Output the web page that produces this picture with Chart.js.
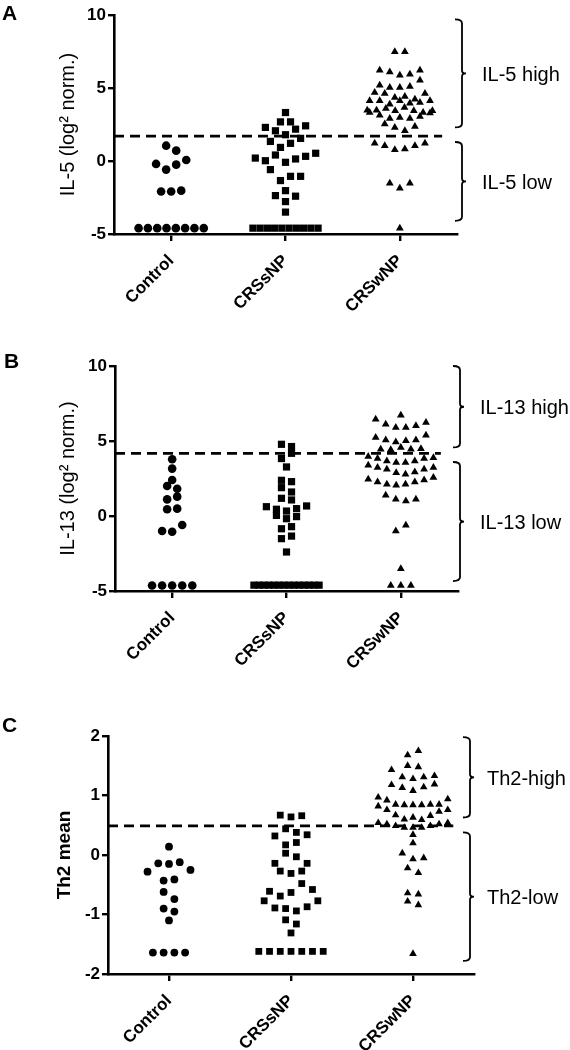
<!DOCTYPE html>
<html>
<head>
<meta charset="utf-8">
<script src="https://cdn.jsdelivr.net/npm/chart.js@4.4.0/dist/chart.umd.min.js"></script>
<style>
  body { margin: 0; background: #fff; width: 570px; height: 1050px; position: relative; overflow: hidden; }
  canvas { position: absolute; left: 0; }
</style>
</head>
<body>
<canvas id="panelA" width="570" height="350" style="top:0"></canvas>
<canvas id="panelB" width="570" height="350" style="top:350px"></canvas>
<canvas id="panelC" width="570" height="350" style="top:700px"></canvas>
<script>
'use strict';

const groups = ['Control', 'CRSsNP', 'CRSwNP'];

// each group is a list of swarm rows, read top to bottom, left to right

// A: IL-5
const il5Ticks = [-5, 0, 5, 10];
const il5Control = [
    [1.05, 0.71],
    [-0.20, -0.59, -0.25, 0.07],
    [-2.09, -2.09, -2.03],
    [-4.6, -4.6, -4.6, -4.6, -4.6, -4.6, -4.6, -4.6]
];
const il5Crssnp = [
    [3.32],
    [2.68, 2.68],
    [2.30, 2.07, 1.80, 2.18, 2.41],
    [1.34, 0.93, 1.21, 1.55],
    [0.20, 0.02, 0.41, -0.09, 0.14, 0.32, 0.53],
    [-0.59, -1.34, -1.05, -1.05],
    [-2.37, -2.03, -2.41],
    [-2.78],
    [-3.50],
    [-4.6, -4.6, -4.6, -4.6, -4.6, -4.6, -4.6, -4.6, -4.6, -4.6]
];
const il5Crswnp = [
    [7.49, 7.49],
    [6.21, 6.10, 5.87, 5.94, 6.21],
    [5.19, 5.03, 5.03, 5.10, 5.53],
    [4.69, 4.62, 4.35, 4.41, 4.23, 4.62],
    [4.12, 4.12, 3.89, 4.12, 3.96, 4.00, 4.12],
    [3.48, 3.48, 3.59, 3.44, 3.66, 3.44, 3.32, 3.44],
    [3.32, 3.14, 2.91, 2.98, 2.91, 3.05, 3.28],
    [2.53, 2.30, 2.07, 2.37],
    [1.21, 1.05, 0.77, 0.82, 1.05, 1.21],
    [-1.52, -1.87, -1.52],
    [-4.6]
];
const il5Cutoff = 1.7;
const il5Brackets = [[2.3, 9.7], [-4.1, 1.3]];
const il5BracketLabels = ['IL-5 high', 'IL-5 low'];

// B: IL-13
const il13Ticks = [-5, 0, 5, 10];
const il13Control = [
    [3.78],
    [3.16],
    [2.40],
    [2.00, 1.82],
    [1.11, 1.29],
    [0.45, 0.49],
    [-1.00, -1.05, -0.60],
    [-4.63, -4.63, -4.63, -4.63, -4.63]
];
const il13Crssnp = [
    [4.78, 4.63],
    [3.83, 4.18],
    [3.27],
    [2.38, 2.29],
    [1.89, 1.60],
    [1.18, 1.07],
    [0.62, 0.45, 0.33, 0.49, 0.67],
    [0.04, -0.18, -0.04],
    [-0.85, -0.71],
    [-1.51, -1.34],
    [-2.40],
    [-4.61, -4.61, -4.61, -4.61, -4.61, -4.61, -4.61, -4.61, -4.61, -4.61, -4.61, -4.61, -4.61, -4.61]
];
const il13Crswnp = [
    [6.72],
    [6.45, 6.12, 5.90, 5.90, 6.01, 6.23],
    [5.23, 5.07, 4.94, 5.01, 5.07, 5.38],
    [4.45, 4.41, 4.56, 4.45, 4.49],
    [3.96, 3.83, 3.67, 3.56, 3.56, 3.67, 3.83, 3.89],
    [3.38, 3.23, 3.12, 2.89, 2.78, 2.94, 3.12, 3.23],
    [2.45, 2.27, 2.11, 2.05, 2.11, 2.27, 2.40, 2.56],
    [1.38, 1.11, 1.00, 1.11],
    [-1.00, -0.62],
    [-3.52],
    [-4.63, -4.63, -4.63]
];
const il13Cutoff = 4.17;
const il13Brackets = [[4.57, 10.0], [-4.34, 3.6]];
const il13BracketLabels = ['IL-13 high', 'IL-13 low'];

// C: Th2 mean
const th2Ticks = [-2, -1, 0, 1, 2];
const th2Control = [
    [0.14],
    [-0.28, -0.14, -0.15, -0.12, -0.25],
    [-0.43, -0.41],
    [-0.62, -0.74],
    [-0.90, -0.95],
    [-1.10],
    [-1.64, -1.64, -1.64, -1.64]
];
const th2Crssnp = [
    [0.67, 0.64, 0.66],
    [0.32, 0.44, 0.38, 0.34],
    [0.17, 0.21],
    [-0.14, 0.03, -0.03, -0.14],
    [-0.27, -0.31, -0.27],
    [-0.61, -0.69, -0.63, -0.48, -0.58],
    [-0.77, -0.89, -0.90, -0.94, -0.87, -0.77],
    [-1.09, -1.16],
    [-1.31],
    [-1.62, -1.62, -1.62, -1.62, -1.62, -1.62, -1.62]
];
const th2Crswnp = [
    [1.68, 1.75],
    [1.50, 1.48],
    [1.43, 1.31, 1.28, 1.31, 1.33],
    [1.18, 1.13, 1.08, 1.14, 1.19],
    [0.97, 0.92, 0.85, 0.84, 0.84, 0.84, 0.85, 0.85, 0.94],
    [0.82, 0.76, 0.67, 0.60, 0.63, 0.59, 0.66, 0.73, 0.76],
    [0.54, 0.52, 0.49, 0.46, 0.46, 0.46, 0.49, 0.52, 0.54],
    [0.34],
    [0.20],
    [0.03, -0.07, -0.05],
    [-0.22, -0.30],
    [-0.64, -0.66],
    [-0.78, -0.84],
    [-1.66]
];
const th2Cutoff = 0.49;
const th2Brackets = [[0.63, 1.98], [-1.78, 0.38]];
const th2BracketLabels = ['Th2-high', 'Th2-low'];

// swarm layout (like GraphPad): rows spread sideways, centred on the group
const STEP = 0.088;
const MAX_SPAN = 0.57;
const X_MIN = -0.5, X_MAX = 2.5;
const styles = ['circle', 'rect', 'triangle'];
const FONT = '"Liberation Sans", Arial, sans-serif';

Chart.defaults.font.family = FONT;
Chart.defaults.color = '#000';

function swarm(rows, slot) {
    const points = [];
    rows.forEach(row => {
        const n = row.length;
        const gap = n > 1 ? Math.min(STEP, MAX_SPAN / (n - 1)) : 0;
        row.forEach((v, k) => points.push({ x: slot + (k - (n - 1) / 2) * gap, y: v }));
    });
    return points;
}

// brackets, their labels and the panel letter
const annotate = {
    id: 'annotate',
    afterDraw(chart, args, o) {
        const { ctx, chartArea: area, scales: { y } } = chart;
        ctx.save();
        ctx.fillStyle = '#000';
        ctx.strokeStyle = '#000';
        ctx.lineWidth = 1.8;
        ctx.font = '20px ' + FONT;
        ctx.textBaseline = 'middle';
        o.brackets.forEach((b, i) => {
            const x = area.right + o.bracketGap;
            const yTop = y.getPixelForValue(b[1]);
            const yBot = y.getPixelForValue(b[0]);
            const yMid = (yTop + yBot) / 2;
            ctx.beginPath();
            ctx.moveTo(x - 7, yTop);
            ctx.quadraticCurveTo(x, yTop, x, yTop + 4);
            ctx.lineTo(x, yMid - 3);
            ctx.quadraticCurveTo(x, yMid, x + 4, yMid);
            ctx.quadraticCurveTo(x, yMid, x, yMid + 3);
            ctx.lineTo(x, yBot - 4);
            ctx.quadraticCurveTo(x, yBot, x - 7, yBot);
            ctx.stroke();
            ctx.fillText(o.labels[i], x + o.labelGap, yMid + 2);
        });
        ctx.font = 'bold 21px ' + FONT;
        ctx.textBaseline = 'alphabetic';
        ctx.fillText(o.letter, o.letterX, o.letterY);
        ctx.restore();
    }
};

const panels = [
    { id: 'panelA', letter: 'A', letterX: 2, letterY: 20,
      title: 'IL-5 (log² norm.)', titleWeight: 'normal', titleSize: 20, titlePad: 56,
      rows: [il5Control, il5Crssnp, il5Crswnp], ticks: il5Ticks, cutoff: il5Cutoff, dashEnd: 2.37,
      brackets: il5Brackets, labels: il5BracketLabels, bracketGap: 5, labelGap: 20,
      padTop: 15, padRight: 113, yWidth: 114, xHeight: 116, marker: [4.3, 5.1, 4.5] },
    { id: 'panelB', letter: 'B', letterX: 4, letterY: 18,
      title: 'IL-13 (log² norm.)', titleWeight: 'normal', titleSize: 20, titlePad: 56,
      rows: [il13Control, il13Crssnp, il13Crswnp], ticks: il13Ticks, cutoff: il13Cutoff, dashEnd: 2.35,
      brackets: il13Brackets, labels: il13BracketLabels, bracketGap: 2, labelGap: 20,
      padTop: 16, padRight: 112, yWidth: 115, xHeight: 109, marker: [4.3, 5.1, 4.5] },
    { id: 'panelC', letter: 'C', letterX: 2, letterY: 32,
      title: 'Th2 mean', titleWeight: 'bold', titleSize: 19, titlePad: 53,
      rows: [th2Control, th2Crssnp, th2Crswnp], ticks: th2Ticks, cutoff: th2Cutoff, dashEnd: 2.33,
      brackets: th2Brackets, labels: th2BracketLabels, bracketGap: -4, labelGap: 17,
      padTop: 36, padRight: 96, yWidth: 108, xHeight: 76, marker: [3.9, 4.8, 4.4] }
];

function makeChart(p) {
    const datasets = p.rows.map((rows, i) => ({
        data: swarm(rows, i),
        pointStyle: styles[i],
        pointRadius: p.marker[i],
        pointBackgroundColor: '#000',
        pointBorderWidth: 0,
        showLine: false,
        clip: false,
        order: 1
    }));
    datasets.push({
        type: 'line',
        data: [{ x: X_MIN, y: p.cutoff }, { x: p.dashEnd, y: p.cutoff }],
        borderColor: '#000',
        borderWidth: 2.7,
        borderDash: [10, 6],
        pointRadius: 0,
        order: 0
    });

    const axisGrid = { display: true, drawOnChartArea: false, drawTicks: true, color: '#000', lineWidth: 2.4 };
    const axisBorder = { display: true, color: '#000', width: 2.6 };

    return new Chart(document.getElementById(p.id), {
        type: 'scatter',
        data: { datasets: datasets },
        plugins: [annotate],
        options: {
            responsive: false,
            animation: false,
            events: [],
            layout: { padding: { top: p.padTop, right: p.padRight, left: 0, bottom: 0 } },
            plugins: {
                legend: { display: false },
                tooltip: { enabled: false },
                annotate: p
            },
            scales: {
                x: {
                    type: 'linear', min: X_MIN, max: X_MAX,
                    afterBuildTicks: s => { s.ticks = groups.map((g, i) => ({ value: i })); },
                    afterFit: s => { s.height = p.xHeight; },
                    grid: Object.assign({ tickLength: 7 }, axisGrid),
                    border: axisBorder,
                    ticks: {
                        autoSkip: false, minRotation: 45, maxRotation: 45, padding: 10,
                        font: { size: 17, weight: 'bold' },
                        callback: v => groups[v]
                    }
                },
                y: {
                    min: p.ticks[0], max: p.ticks[p.ticks.length - 1],
                    afterBuildTicks: s => { s.ticks = p.ticks.map(v => ({ value: v })); },
                    afterFit: s => { s.width = p.yWidth; },
                    grid: Object.assign({ tickLength: 6 }, axisGrid),
                    border: axisBorder,
                    ticks: { padding: 2, font: { size: 17, weight: 'bold' } },
                    title: {
                        display: true, text: p.title,
                        font: { size: p.titleSize, weight: p.titleWeight },
                        padding: { top: p.titlePad, bottom: 0 }
                    }
                }
            }
        }
    });
}

panels.forEach(makeChart);
</script>
</body>
</html>
